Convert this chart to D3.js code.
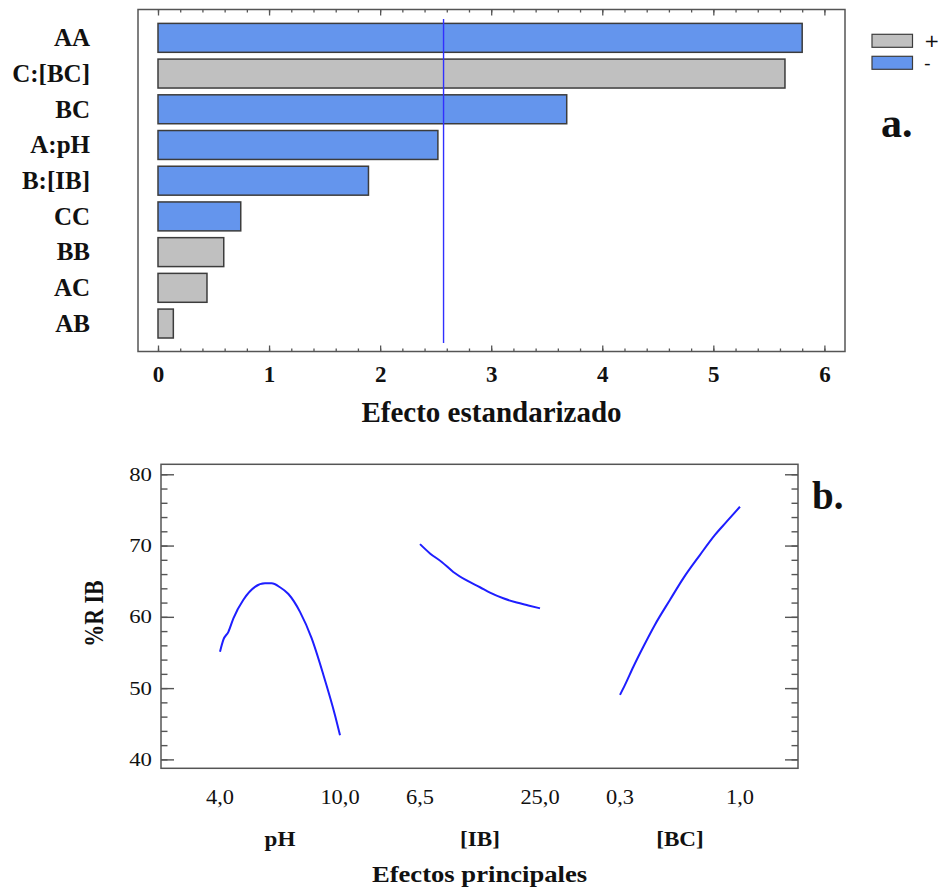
<!DOCTYPE html>
<html>
<head>
<meta charset="utf-8">
<script src="https://cdn.jsdelivr.net/npm/d3@7"></script>
<style>
  body { margin: 0; background: #fff; }
  svg { display: block; }
</style>
</head>
<body>
<svg id="chart" width="940" height="890"></svg>
<script>
// ---------- a. Standardized Pareto chart ----------
const effectTerms  = ["AA", "C:[BC]", "BC", "A:pH", "B:[IB]", "CC", "BB", "AC", "AB"];
const effectValues = [5.80, 5.645, 3.68, 2.52, 1.895, 0.745, 0.592, 0.441, 0.138];
const effectSigns  = ["-", "+", "-", "-", "-", "-", "+", "+", "+"];
const criticalT    = 2.571;
const effectTicks  = [0, 1, 2, 3, 4, 5, 6];
const legendSigns  = ["+", "-"];

// ---------- b. Main effects plot for %R IB ----------
const factorNames  = ["pH", "[IB]", "[BC]"];
const factorRanges = [[4.0, 10.0], [6.5, 25.0], [0.3, 1.0]];
const factorTickLabels = [["4,0", "10,0"], ["6,5", "25,0"], ["0,3", "1,0"]];
const responseTicks = [40, 50, 60, 70, 80];

const phLevels   = [4.0, 4.17, 4.42, 4.67, 5.17, 5.75, 6.25, 6.58, 7.0, 7.42, 8.0, 8.58, 9.17, 9.75, 10.0];
const phResponse = [55.1, 56.8, 57.9, 59.8, 62.4, 64.2, 64.7, 64.7, 64.15, 63.2, 60.7, 57.0, 51.85, 46.2, 43.4];
const ibLevels   = [6.5, 8.04, 9.85, 11.63, 13.7, 15.75, 17.29, 19.34, 21.41, 23.2, 25.0];
const ibResponse = [70.2, 68.9, 67.7, 66.3, 65.1, 64.15, 63.4, 62.6, 62.0, 61.6, 61.2];
const bcLevels   = [0.30, 0.329, 0.378, 0.436, 0.504, 0.592, 0.669, 0.767, 0.854, 0.922, 1.0];
const bcResponse = [49.05, 50.45, 53.0, 55.8, 58.9, 62.4, 65.4, 68.7, 71.5, 73.35, 75.45];

const svg = d3.select("#chart");
const serif = "'Liberation Serif', 'Times New Roman', serif";
const sans = "'DejaVu Sans', Arial, sans-serif";
const frameColor = "#555";

// ===== Panel a =====
const pa = { left: 138, top: 9.5, right: 845, bottom: 351.5 };
const x = d3.scaleLinear().domain([0, 6]).range([158, 824.4]);
const y = d3.scaleBand().domain(effectTerms).range([20, 341.4])
  .paddingInner(0.19).paddingOuter(0.095);
const signColor = d3.scaleOrdinal().domain(["+", "-"]).range(["#c0c0c0", "#6495ed"]);

const ga = svg.append("g");
const bars = effectTerms.map((t, i) => ({ term: t, value: effectValues[i], sign: effectSigns[i] }));

ga.selectAll("rect.bar").data(bars).join("rect")
  .attr("class", "bar")
  .attr("x", x(0))
  .attr("y", d => y(d.term))
  .attr("width", d => x(d.value) - x(0))
  .attr("height", y.bandwidth())
  .attr("fill", d => signColor(d.sign))
  .attr("stroke", "#3c3c3c")
  .attr("stroke-width", 1.5);

// critical value line
ga.append("line")
  .attr("x1", x(criticalT)).attr("x2", x(criticalT))
  .attr("y1", y.range()[0] - 1).attr("y2", y.range()[1] + 1.5)
  .attr("stroke", "#3030ff").attr("stroke-width", 1.4);

// frame
ga.append("rect")
  .attr("x", pa.left).attr("y", pa.top)
  .attr("width", pa.right - pa.left).attr("height", pa.bottom - pa.top)
  .attr("fill", "none").attr("stroke", frameColor).attr("stroke-width", 1.5);

// ticks (inward) on bottom and top
const minorA = d3.range(0, 6.001, 0.2);
function tickAxis(axisFn, yPos, vals, size) {
  const g = ga.append("g").attr("transform", `translate(0,${yPos})`)
    .call(axisFn(x).tickValues(vals).tickSize(size).tickFormat(""));
  g.select(".domain").remove();
  g.selectAll(".tick line").attr("stroke", frameColor).attr("stroke-width", 1.3);
  return g;
}
tickAxis(d3.axisBottom, pa.bottom, minorA, -3);
tickAxis(d3.axisBottom, pa.bottom, effectTicks, -6);
tickAxis(d3.axisTop, pa.top, minorA, -3);
tickAxis(d3.axisTop, pa.top, effectTicks, -6);

// tick labels
const axA = ga.append("g").attr("transform", `translate(0,${pa.bottom})`)
  .call(d3.axisBottom(x).tickValues(effectTicks).tickSize(0).tickPadding(14).tickFormat(d3.format("d")));
axA.select(".domain").remove();
axA.selectAll("text")
  .attr("font-family", serif).attr("font-weight", "bold")
  .attr("font-size", 23).attr("fill", "#111");

// category labels
ga.selectAll("text.term").data(bars).join("text")
  .attr("class", "term")
  .attr("x", 90)
  .attr("y", d => y(d.term) + y.bandwidth() / 2)
  .attr("dy", "0.33em")
  .attr("text-anchor", "end")
  .attr("font-family", serif).attr("font-weight", "bold")
  .attr("font-size", 25).attr("fill", "#111")
  .text(d => d.term);

// axis title
ga.append("text")
  .attr("x", (pa.left + pa.right) / 2).attr("y", 421.5)
  .attr("text-anchor", "middle")
  .attr("font-family", serif).attr("font-weight", "bold")
  .attr("font-size", 29).attr("fill", "#111")
  .text("Efecto estandarizado");

// legend
const lg = ga.append("g");
legendSigns.forEach((s, i) => {
  const cy = 40.8 + i * 22;
  lg.append("rect")
    .attr("x", 872).attr("y", cy - 6.5).attr("width", 40.5).attr("height", 13)
    .attr("fill", signColor(s)).attr("stroke", "#3c3c3c").attr("stroke-width", 1.2);
  lg.append("text")
    .attr("x", 924).attr("y", cy).attr("dy", "0.36em")
    .attr("font-family", sans).attr("font-size", 18.5).attr("fill", "#111")
    .text(s);
});

ga.append("text")
  .attr("x", 881).attr("y", 136.5)
  .attr("font-family", serif).attr("font-weight", "bold")
  .attr("font-size", 42).attr("fill", "#111")
  .text("a.");

// ===== Panel b =====
const pb = { left: 161, top: 464.3, right: 798, bottom: 768.3 };
const yR = d3.scaleLinear().domain([38.75, 81.4]).range([pb.bottom, pb.top]);
const xPos = d3.scaleLinear().domain([-0.295, 2.89]).range([pb.left, pb.right]);
const factorScales = factorRanges.map((r, i) => d3.scaleLinear().domain(r).range([i, i + 0.6]));

const gb = svg.append("g");

// panel-b lettering is slightly widened horizontally
function sText(str, px, py, opts) {
  const sx = opts.sx || 1.2;
  return gb.append("text")
    .attr("transform", `translate(${px},${py}) scale(${sx},1)` + (opts.rotate ? ` rotate(${opts.rotate})` : ""))
    .attr("text-anchor", opts.anchor || "middle")
    .attr("font-family", serif)
    .attr("font-weight", opts.bold ? "bold" : "normal")
    .attr("font-size", opts.size)
    .attr("fill", "#111")
    .text(str);
}

// frame
gb.append("rect")
  .attr("x", pb.left).attr("y", pb.top)
  .attr("width", pb.right - pb.left).attr("height", pb.bottom - pb.top)
  .attr("fill", "none").attr("stroke", frameColor).attr("stroke-width", 1.5);

// y ticks on both sides, pointing inward
const minorB = d3.range(40, 80.001, 2);
function yTicks(axisFn, xp, vals, size) {
  const g = gb.append("g").attr("transform", `translate(${xp},0)`)
    .call(axisFn(yR).tickValues(vals).tickSize(size).tickFormat(""));
  g.select(".domain").remove();
  g.selectAll(".tick line").attr("stroke", frameColor).attr("stroke-width", 1.4);
}
yTicks(d3.axisLeft, pb.left, minorB, -6.5);
yTicks(d3.axisLeft, pb.left, responseTicks, -13);
yTicks(d3.axisRight, pb.right, minorB, -6.5);
yTicks(d3.axisRight, pb.right, responseTicks, -13);

responseTicks.forEach(v => sText(String(v), 152, yR(v) + 6.5, { size: 19, anchor: "end", sx: 1.2 }));

// response curves
const series = [
  { levels: phLevels, response: phResponse },
  { levels: ibLevels, response: ibResponse },
  { levels: bcLevels, response: bcResponse }
];
series.forEach((s, i) => {
  const fs = factorScales[i];
  const pts = s.levels.map((l, j) => [l, s.response[j]]);
  gb.append("path")
    .datum(pts)
    .attr("fill", "none")
    .attr("stroke", "#1e1eff")
    .attr("stroke-width", 2)
    .attr("stroke-linejoin", "round")
    .attr("d", d3.line().x(d => xPos(fs(d[0]))).y(d => yR(d[1])).curve(d3.curveMonotoneX));
});

// factor level labels and names
factorNames.forEach((name, i) => {
  const fs = factorScales[i];
  factorRanges[i].forEach((lv, j) => {
    sText(factorTickLabels[i][j], xPos(fs(lv)), 803.5, { size: 20, sx: 1.12 });
  });
  sText(name, xPos(i + 0.3), 845.5, { size: 21, bold: true, sx: 1.1 });
});

sText("Efectos principales", (pb.left + pb.right) / 2, 882, { size: 24, bold: true, sx: 1.11 });
sText("%R IB", 103, 613.5, { size: 22, bold: true, rotate: -90, sx: 1.2 });

gb.append("text")
  .attr("x", 812).attr("y", 509)
  .attr("font-family", serif).attr("font-weight", "bold")
  .attr("font-size", 39).attr("fill", "#111")
  .text("b.");
</script>
</body>
</html>
